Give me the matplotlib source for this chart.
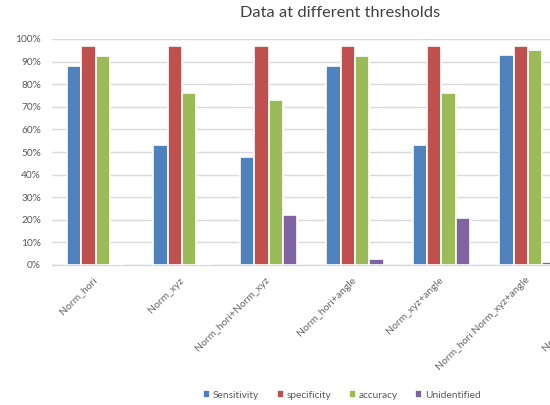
import matplotlib
matplotlib.use("Agg")
import matplotlib.pyplot as plt
import numpy as np

plt.rcParams['font.family'] = ['Lato', 'DejaVu Sans']

categories = ["Norm_hori", "Norm_xyz", "Norm_hori+Norm_xyz", "Norm_hori+angle",
              "Norm_xyz+angle", "Norm_hori Norm_xyz+angle", "Norm_hori+xyz+angle"]

sensitivity = [88, 53, 48, 88, 53, 93]
specificity = [97, 97, 97, 97, 97, 97]
accuracy = [92.6, 76, 73.2, 92.6, 76, 95]
unidentified = [0, 0, 22, 2.5, 21, 1.5]

series_names = ["Sensitivity", "specificity", "accuracy", "Unidentified"]
series_values = [sensitivity, specificity, accuracy, unidentified]
colors = ["#4F81BD", "#C0504D", "#9BBB59", "#8064A2"]

yticks = [0, 10, 20, 30, 40, 50, 60, 70, 80, 90, 100]
ytick_labels = [f"{v}%" for v in yticks]

W, H = 550, 405
fig = plt.figure(figsize=(W / 100, H / 100), dpi=100)
fig.patch.set_facecolor("white")

# plot area runs past the right edge of the canvas
left, bottom = 52.25 / W, (H - 265) / H
ax = fig.add_axes([left, bottom, 7 * 86.5 / W, 226 / H])

n_series = len(series_values)
bar_w = 1 / 1.5 / n_series
x = np.arange(len(sensitivity))
for i, (name, vals, c) in enumerate(zip(series_names, series_values, colors)):
    offs = (i - (n_series - 1) / 2) * bar_w
    ax.bar(x + offs, vals, width=bar_w, color=c, edgecolor="white",
           linewidth=1.2, label=name, zorder=3)

ax.set_xlim(-0.5, len(categories) - 0.5)
ax.set_ylim(0, 100)
ax.set_yticks(yticks)
ax.set_yticklabels(ytick_labels, fontsize=7.3, color="#595959")
ax.set_xticks(np.arange(len(categories)))
ax.set_xticklabels(categories, rotation=45, ha="right", va="center",
                   rotation_mode="anchor", fontsize=7.5, color="#666666")
ax.tick_params(axis="both", length=0)
ax.tick_params(axis="x", pad=10)
ax.tick_params(axis="y", pad=8)

ax.grid(axis="y", color="#D9D9D9", linewidth=1.0, zorder=0)
for s in ["top", "right", "left"]:
    ax.spines[s].set_visible(False)
ax.spines["bottom"].set_color("#D9D9D9")
ax.spines["bottom"].set_linewidth(1.0)
ax.set_facecolor("none")

fig.text(340 / W, 1 - 13 / H, "Data at different thresholds", ha="center",
         va="center", fontsize=11.8, color="#404040")

handles, labels = ax.get_legend_handles_labels()
fig.legend(handles, labels, loc="center", bbox_to_anchor=(342 / W, 1 - 395 / H),
           ncol=4, frameon=False, fontsize=7.3, handlelength=0.7, handleheight=0.7,
           handletextpad=0.3, columnspacing=1.7, labelcolor="#595959")

fig.savefig("out.png", dpi=100, facecolor="white")
